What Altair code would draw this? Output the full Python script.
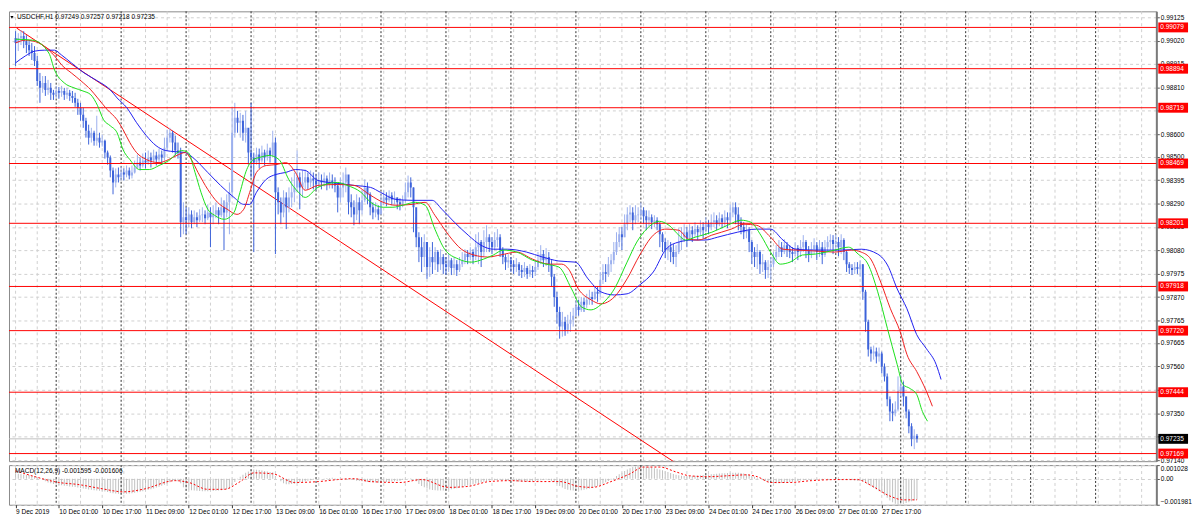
import altair as alt
import pandas as pd

FONT = "Liberation Sans"
FS = 6.6
W = 1158
H_MAIN = 454
H_MACD = 40

title_text = "USDCHF,H1  0.97249 0.97257 0.97218 0.97235"
macd_text = "MACD(12,26,9) -0.001595 -0.001606"

# ---------------- hourly candles (9 Dec 2019 09:00 .. 30 Dec 2019 06:00) ----------------
first_open = 0.99031
close = [
    # 9 Dec
    0.99009, 0.99031, 0.99040, 0.99017, 0.99000, 0.98977, 0.98964, 0.98928, 0.98839, 0.98808, 0.98830, 0.98799, 0.98808, 0.98786, 0.98777,
    # 10 Dec
    0.98794, 0.98786, 0.98794, 0.98777, 0.98786, 0.98772, 0.98763, 0.98741, 0.98719, 0.98687, 0.98661, 0.98616, 0.98585, 0.98607, 0.98571, 0.98585, 0.98563, 0.98571, 0.98518, 0.98496, 0.98438, 0.98384, 0.98420, 0.98407,
    # 11 Dec
    0.98429, 0.98420, 0.98438, 0.98415, 0.98429, 0.98451, 0.98473, 0.98460, 0.98482, 0.98473, 0.98496, 0.98482, 0.98505, 0.98487, 0.98509, 0.98496, 0.98540, 0.98585, 0.98607, 0.98563, 0.98527, 0.98518, 0.98206, 0.98228,
    # 12 Dec
    0.98215, 0.98241, 0.98206, 0.98228, 0.98215, 0.98237, 0.98241, 0.98224, 0.98250, 0.98228, 0.98241, 0.98259, 0.98237, 0.98273, 0.98250, 0.98295, 0.98340, 0.98607, 0.98674, 0.98652, 0.98661, 0.98607, 0.98629, 0.98518,
    # 13 Dec
    0.98496, 0.98473, 0.98509, 0.98482, 0.98518, 0.98496, 0.98527, 0.98505, 0.98563, 0.98340, 0.98295, 0.98250, 0.98317, 0.98273, 0.98317, 0.98340, 0.98362, 0.98407, 0.98362, 0.98384, 0.98407, 0.98384, 0.98402, 0.98393,
    # 16 Dec
    0.98375, 0.98393, 0.98384, 0.98402, 0.98375, 0.98393, 0.98384, 0.98371, 0.98317, 0.98362, 0.98384, 0.98420, 0.98295, 0.98273, 0.98241, 0.98295, 0.98259, 0.98304, 0.98362, 0.98331, 0.98273, 0.98250, 0.98264, 0.98241,
    # 17 Dec
    0.98295, 0.98317, 0.98304, 0.98326, 0.98308, 0.98317, 0.98295, 0.98286, 0.98304, 0.98340, 0.98384, 0.98362, 0.98273, 0.98139, 0.98094, 0.98050, 0.98117, 0.98005, 0.98050, 0.98027, 0.98072, 0.98018, 0.98050, 0.98018,
    # 18 Dec
    0.98005, 0.98036, 0.98001, 0.98018, 0.97992, 0.98018, 0.98036, 0.98063, 0.98050, 0.98072, 0.98050, 0.98094, 0.98117, 0.98072, 0.98117, 0.98139, 0.98117, 0.98094, 0.98126, 0.98139, 0.98081, 0.98050, 0.98027, 0.98036,
    # 19 Dec
    0.98018, 0.98005, 0.98018, 0.97992, 0.97983, 0.98001, 0.97974, 0.97992, 0.97983, 0.98005, 0.98036, 0.98063, 0.98036, 0.98050, 0.98018, 0.97961, 0.97871, 0.97804, 0.97738, 0.97760, 0.97724, 0.97751, 0.97769, 0.97787,
    # 20 Dec
    0.97827, 0.97813, 0.97849, 0.97836, 0.97858, 0.97871, 0.97862, 0.97894, 0.97885, 0.97947, 0.97983, 0.97974, 0.98018, 0.98036, 0.98072, 0.98117, 0.98152, 0.98139, 0.98197, 0.98241, 0.98250, 0.98215, 0.98237, 0.98241,
    # 23 Dec
    0.98259, 0.98233, 0.98215, 0.98228, 0.98206, 0.98215, 0.98197, 0.98152, 0.98117, 0.98081, 0.98094, 0.98072, 0.98050, 0.98072, 0.98117, 0.98139, 0.98161, 0.98134, 0.98170, 0.98152, 0.98175, 0.98161, 0.98184, 0.98170,
    # 24 Dec
    0.98197, 0.98184, 0.98206, 0.98215, 0.98197, 0.98224, 0.98206, 0.98228, 0.98215, 0.98250, 0.98273, 0.98241, 0.98206, 0.98184, 0.98161, 0.98170, 0.98117, 0.98072, 0.98050, 0.98072, 0.98018, 0.98027, 0.97992, 0.98005,
    # 26 Dec
    0.98018, 0.98050, 0.98072, 0.98094, 0.98072, 0.98103, 0.98085, 0.98072, 0.98063, 0.98090, 0.98072, 0.98094, 0.98117, 0.98081, 0.98063, 0.98085, 0.98103, 0.98072, 0.98094, 0.98059, 0.98094, 0.98117, 0.98126, 0.98108,
    # 27 Dec
    0.98117, 0.98094, 0.98126, 0.98072, 0.98018, 0.98001, 0.97992, 0.98005, 0.97996, 0.98018, 0.97894, 0.97760, 0.97635, 0.97617, 0.97626, 0.97604, 0.97617, 0.97559, 0.97515, 0.97412, 0.97358, 0.97350, 0.97367, 0.97448,
    # 30 Dec
    0.97470, 0.97425, 0.97358, 0.97292, 0.97234, 0.97249, 0.97235,
]
high = [
    0.99062, 0.99053, 0.99067, 0.99062, 0.99044, 0.99022, 0.99009, 0.98995, 0.98951, 0.98875, 0.98861, 0.98861, 0.98844, 0.98830, 0.98799,
    0.98817, 0.98812, 0.98817, 0.98808, 0.98808, 0.98799, 0.98794, 0.98786, 0.98759, 0.98741, 0.98719, 0.98674, 0.98643, 0.98629, 0.98616, 0.98683, 0.98607, 0.98598, 0.98576, 0.98527, 0.98505, 0.98451, 0.98447, 0.98451,
    0.98456, 0.98447, 0.98460, 0.98451, 0.98460, 0.98482, 0.98509, 0.98496, 0.98514, 0.98518, 0.98527, 0.98518, 0.98531, 0.98522, 0.98536, 0.98527, 0.98585, 0.98621, 0.98629, 0.98616, 0.98594, 0.98563, 0.98540, 0.98295,
    0.98273, 0.98273, 0.98259, 0.98259, 0.98250, 0.98264, 0.98273, 0.98259, 0.98286, 0.98273, 0.98282, 0.98295, 0.98273, 0.98317, 0.98304, 0.98331, 0.98384, 0.98719, 0.98741, 0.98705, 0.98696, 0.98687, 0.98705, 0.98607,
    0.98741, 0.98518, 0.98540, 0.98536, 0.98549, 0.98531, 0.98558, 0.98540, 0.98616, 0.98585, 0.98362, 0.98317, 0.98349, 0.98340, 0.98362, 0.98407, 0.98429, 0.98527, 0.98429, 0.98438, 0.98442, 0.98429, 0.98438, 0.98429,
    0.98420, 0.98429, 0.98420, 0.98429, 0.98415, 0.98429, 0.98420, 0.98407, 0.98384, 0.98407, 0.98429, 0.98451, 0.98407, 0.98331, 0.98304, 0.98331, 0.98317, 0.98349, 0.98398, 0.98384, 0.98340, 0.98295, 0.98295, 0.98282,
    0.98331, 0.98349, 0.98340, 0.98349, 0.98340, 0.98344, 0.98317, 0.98313, 0.98326, 0.98384, 0.98415, 0.98407, 0.98362, 0.98228, 0.98161, 0.98139, 0.98152, 0.98117, 0.98094, 0.98117, 0.98094, 0.98081, 0.98085, 0.98063,
    0.98050, 0.98063, 0.98045, 0.98050, 0.98036, 0.98050, 0.98072, 0.98085, 0.98081, 0.98094, 0.98085, 0.98152, 0.98161, 0.98126, 0.98170, 0.98192, 0.98152, 0.98139, 0.98161, 0.98175, 0.98152, 0.98094, 0.98063, 0.98063,
    0.98050, 0.98036, 0.98045, 0.98027, 0.98014, 0.98027, 0.98010, 0.98018, 0.98010, 0.98036, 0.98072, 0.98103, 0.98081, 0.98090, 0.98072, 0.98036, 0.97974, 0.97894, 0.97827, 0.97804, 0.97782, 0.97791, 0.97804, 0.97822,
    0.97858, 0.97858, 0.97871, 0.97867, 0.97885, 0.97903, 0.97894, 0.97916, 0.97920, 0.97983, 0.98018, 0.98018, 0.98050, 0.98063, 0.98117, 0.98161, 0.98184, 0.98184, 0.98241, 0.98273, 0.98282, 0.98273, 0.98282, 0.98273,
    0.98295, 0.98273, 0.98259, 0.98259, 0.98241, 0.98237, 0.98228, 0.98206, 0.98161, 0.98134, 0.98126, 0.98117, 0.98108, 0.98103, 0.98179, 0.98184, 0.98197, 0.98184, 0.98197, 0.98188, 0.98206, 0.98192, 0.98215, 0.98206,
    0.98228, 0.98215, 0.98241, 0.98250, 0.98237, 0.98250, 0.98241, 0.98259, 0.98250, 0.98286, 0.98295, 0.98295, 0.98273, 0.98228, 0.98206, 0.98197, 0.98184, 0.98126, 0.98094, 0.98108, 0.98081, 0.98063, 0.98036, 0.98036,
    0.98050, 0.98072, 0.98103, 0.98126, 0.98117, 0.98130, 0.98117, 0.98103, 0.98094, 0.98117, 0.98103, 0.98126, 0.98148, 0.98126, 0.98099, 0.98117, 0.98134, 0.98117, 0.98126, 0.98117, 0.98126, 0.98143, 0.98152, 0.98148,
    0.98152, 0.98139, 0.98152, 0.98134, 0.98081, 0.98027, 0.98018, 0.98027, 0.98027, 0.98036, 0.98018, 0.97903, 0.97769, 0.97648, 0.97653, 0.97644, 0.97644, 0.97626, 0.97573, 0.97528, 0.97425, 0.97394, 0.97403, 0.97515,
    0.97523, 0.97492, 0.97425, 0.97367, 0.97305, 0.97278, 0.97257,
]
low = [
    0.98906, 0.98973, 0.99000, 0.98986, 0.98964, 0.98951, 0.98933, 0.98906, 0.98817, 0.98741, 0.98786, 0.98772, 0.98777, 0.98754, 0.98754,
    0.98763, 0.98759, 0.98768, 0.98754, 0.98759, 0.98750, 0.98741, 0.98723, 0.98687, 0.98661, 0.98629, 0.98585, 0.98554, 0.98563, 0.98549, 0.98549, 0.98540, 0.98545, 0.98491, 0.98464, 0.98407, 0.98331, 0.98362, 0.98384,
    0.98393, 0.98393, 0.98407, 0.98398, 0.98402, 0.98424, 0.98447, 0.98438, 0.98451, 0.98447, 0.98464, 0.98451, 0.98473, 0.98460, 0.98473, 0.98464, 0.98482, 0.98527, 0.98563, 0.98518, 0.98505, 0.98491, 0.98139, 0.98152,
    0.98152, 0.98184, 0.98179, 0.98197, 0.98184, 0.98206, 0.98206, 0.98197, 0.98215, 0.98094, 0.98197, 0.98224, 0.98197, 0.98228, 0.98081, 0.98228, 0.98152, 0.98317, 0.98585, 0.98607, 0.98585, 0.98571, 0.98563, 0.98464,
    0.98407, 0.98072, 0.98464, 0.98447, 0.98473, 0.98460, 0.98482, 0.98473, 0.98496, 0.98063, 0.98241, 0.98197, 0.98228, 0.98175, 0.98250, 0.98273, 0.98295, 0.98340, 0.98264, 0.98317, 0.98353, 0.98353, 0.98362, 0.98353,
    0.98349, 0.98362, 0.98353, 0.98366, 0.98349, 0.98357, 0.98357, 0.98340, 0.98250, 0.98295, 0.98317, 0.98340, 0.98241, 0.98228, 0.98192, 0.98215, 0.98197, 0.98241, 0.98295, 0.98286, 0.98237, 0.98219, 0.98228, 0.98215,
    0.98250, 0.98282, 0.98277, 0.98295, 0.98282, 0.98286, 0.98264, 0.98259, 0.98273, 0.98295, 0.98317, 0.98317, 0.98161, 0.98094, 0.98027, 0.97983, 0.98005, 0.97952, 0.97961, 0.97974, 0.97992, 0.97983, 0.97992, 0.97974,
    0.97969, 0.97983, 0.97969, 0.97974, 0.97965, 0.97983, 0.98005, 0.98018, 0.98018, 0.98036, 0.98018, 0.98036, 0.98018, 0.98005, 0.98050, 0.98072, 0.98072, 0.98063, 0.98081, 0.98094, 0.98050, 0.98018, 0.97992, 0.98001,
    0.97983, 0.97974, 0.97983, 0.97965, 0.97956, 0.97961, 0.97952, 0.97961, 0.97956, 0.97965, 0.97992, 0.98018, 0.98005, 0.98010, 0.97983, 0.97916, 0.97827, 0.97751, 0.97684, 0.97693, 0.97697, 0.97706, 0.97715, 0.97738,
    0.97782, 0.97787, 0.97804, 0.97804, 0.97822, 0.97836, 0.97836, 0.97858, 0.97849, 0.97871, 0.97929, 0.97938, 0.97961, 0.97983, 0.98018, 0.98059, 0.98094, 0.98081, 0.98139, 0.98170, 0.98206, 0.98170, 0.98197, 0.98206,
    0.98215, 0.98197, 0.98170, 0.98188, 0.98175, 0.98184, 0.98170, 0.98094, 0.98072, 0.98045, 0.98036, 0.98027, 0.98018, 0.98005, 0.98063, 0.98081, 0.98117, 0.98094, 0.98126, 0.98117, 0.98139, 0.98126, 0.98148, 0.98134,
    0.98161, 0.98152, 0.98170, 0.98184, 0.98170, 0.98188, 0.98179, 0.98184, 0.98179, 0.98197, 0.98228, 0.98197, 0.98170, 0.98152, 0.98130, 0.98134, 0.98072, 0.98018, 0.98005, 0.97996, 0.97974, 0.97983, 0.97952, 0.97956,
    0.97947, 0.98005, 0.98036, 0.98050, 0.98050, 0.98063, 0.98050, 0.98045, 0.98027, 0.98054, 0.98036, 0.98050, 0.98072, 0.98045, 0.98027, 0.98045, 0.98063, 0.98036, 0.98050, 0.98018, 0.98050, 0.98072, 0.98081, 0.98063,
    0.98072, 0.98054, 0.98063, 0.98036, 0.97983, 0.97974, 0.97969, 0.97974, 0.97974, 0.97961, 0.97858, 0.97715, 0.97604, 0.97581, 0.97590, 0.97573, 0.97581, 0.97528, 0.97492, 0.97381, 0.97314, 0.97314, 0.97336, 0.97358,
    0.97425, 0.97381, 0.97327, 0.97260, 0.97202, 0.97189, 0.97218,
]

# ---------------- Alligator lines (bar index, price) ----------------
jaw_k = [0, 3.6, 7.2, 10.8, 14.4, 17, 20.6, 25.3, 30.3, 35, 37.5, 41.1, 44.7, 48.3, 51.9, 55.5, 59.1, 62.7, 66.3, 71,
         75.7, 80.7, 84.3, 86.5, 89, 92.6, 96.2, 99.8, 103.4, 107, 111.7, 118.9, 125, 131.1, 134.8, 140.5, 146.6, 153.9, 157.5, 162.1,
         167.2, 171.9, 176.5, 181.6, 188.8, 194.6, 200.7, 206.8, 211.5, 216.2, 221.2, 225.9, 230.6, 235.6, 240.3, 245, 250, 254.7, 259.4, 266.6,
         273.8, 278.9, 283.5, 288.2, 295.4, 305.1, 312.4, 318.5, 322.1, 325.7, 329.3, 332.9, 336.5, 340.1, 341.9]
jaw_p = [0.98920, 0.98951, 0.98973, 0.98977, 0.98977, 0.98955, 0.98920, 0.98875, 0.98839, 0.98799,
         0.98763, 0.98719, 0.98652, 0.98594, 0.98549, 0.98527, 0.98522, 0.98518, 0.98487, 0.98429,
         0.98371, 0.98317, 0.98286, 0.98286, 0.98340, 0.98398, 0.98420, 0.98429, 0.98442, 0.98438,
         0.98393, 0.98380, 0.98371, 0.98362, 0.98340, 0.98308, 0.98304, 0.98304, 0.98264, 0.98206,
         0.98148, 0.98103, 0.98085, 0.98085, 0.98072, 0.98050, 0.98032, 0.98027, 0.97952, 0.97894,
         0.97880, 0.97885, 0.97925, 0.97983, 0.98085, 0.98117, 0.98126, 0.98126, 0.98139, 0.98161,
         0.98175, 0.98175, 0.98126, 0.98085, 0.98081, 0.98081, 0.98085, 0.98063, 0.98014, 0.97907,
         0.97818, 0.97702, 0.97639, 0.97568, 0.97501]
teeth_k = [0, 3.6, 8.7, 12.3, 14.4, 17, 20.6, 24.2, 27.8, 30.3, 33.9, 37.5, 39.7, 42.2, 44.7, 48.3, 53, 56.6, 60.2, 62.7,
           64.9, 67.4, 71, 74.6, 78.2, 81.8, 84.3, 86.5, 89, 92.6, 96.2, 99.8, 103.4, 107, 111.7, 118.9, 125, 131.2, 135.8, 140.5,
           146.6, 151.3, 154.9, 160, 164.7, 169.3, 174.4, 179.1, 185.2, 190.9, 197.1, 201.8, 204.3, 207.9, 212.6, 216.2, 221.2, 225.9, 230.6, 235.6,
           240.3, 245, 248.6, 252.2, 257.2, 264.4, 269.1, 273.8, 278.9, 283.5, 288.2, 295.4, 302.6, 308.8, 312.4, 315.9, 319.6, 323.2, 326.8, 329.3,
           332.9, 336.5, 338.7]
teeth_p = [0.99009, 0.99022, 0.99009, 0.98977, 0.98951, 0.98911, 0.98875, 0.98839, 0.98799, 0.98763,
           0.98710, 0.98665, 0.98621, 0.98563, 0.98518, 0.98487, 0.98473, 0.98487, 0.98509, 0.98518,
           0.98487, 0.98429, 0.98353, 0.98295, 0.98264, 0.98241, 0.98264, 0.98340, 0.98429, 0.98460,
           0.98464, 0.98473, 0.98429, 0.98349, 0.98371, 0.98375, 0.98371, 0.98326, 0.98295, 0.98282,
           0.98286, 0.98295, 0.98237, 0.98148, 0.98085, 0.98059, 0.98050, 0.98059, 0.98072, 0.98041,
           0.98018, 0.98018, 0.97996, 0.97907, 0.97858, 0.97840, 0.97871, 0.97952, 0.98059, 0.98148,
           0.98175, 0.98170, 0.98130, 0.98126, 0.98148, 0.98175, 0.98197, 0.98192, 0.98139, 0.98085,
           0.98081, 0.98077, 0.98072, 0.98081, 0.98072, 0.98041, 0.97938, 0.97818, 0.97715, 0.97613,
           0.97537, 0.97448, 0.97381]
lips_k = [0, 6.2, 12.3, 14.4, 18, 21.6, 24.9, 27.8, 30.3, 32.5, 35, 37.5, 39.7, 42.2, 45.8, 49.4, 53, 56.6, 61.3, 63.8,
          66.3, 68.5, 71, 73.5, 77.1, 80.7, 82.9, 85.4, 87.9, 90.1, 93.7, 97.3, 100.9, 104.5, 107, 111.7, 118.9, 122.5, 127.6, 131.2,
          135.8, 139.4, 143, 147.7, 151.3, 154.9, 158.5, 163.6, 168.3, 173, 176.5, 180.1, 185.2, 190.9, 196, 200.7, 205.4, 209, 212.6, 216.2,
          221.2, 225.9, 229.5, 233.1, 237.8, 241.4, 245, 247.5, 251.1, 257.2, 263, 268, 271.6, 275.3, 278.9, 282.5, 286.1, 290.7, 295.4, 302.6,
          307.7, 311.3, 314.9, 318.5, 322.1, 325.7, 327.8, 330.4, 332.9, 335, 336.9]
lips_p = [0.99026, 0.99022, 0.98964, 0.98888, 0.98830, 0.98808, 0.98794, 0.98777, 0.98728, 0.98665,
          0.98638, 0.98607, 0.98531, 0.98487, 0.98442, 0.98442, 0.98460, 0.98482, 0.98527, 0.98518,
          0.98429, 0.98340, 0.98264, 0.98237, 0.98219, 0.98250, 0.98340, 0.98442, 0.98487, 0.98496,
          0.98505, 0.98487, 0.98398, 0.98340, 0.98317, 0.98362, 0.98384, 0.98371, 0.98340, 0.98295,
          0.98273, 0.98273, 0.98282, 0.98295, 0.98282, 0.98175, 0.98085, 0.98041, 0.98027, 0.98041,
          0.98059, 0.98081, 0.98072, 0.98036, 0.98018, 0.98005, 0.97907, 0.97827, 0.97813, 0.97836,
          0.97907, 0.98027, 0.98117, 0.98175, 0.98210, 0.98192, 0.98148, 0.98126, 0.98139, 0.98161,
          0.98192, 0.98215, 0.98206, 0.98148, 0.98072, 0.98018, 0.98027, 0.98059, 0.98063, 0.98081,
          0.98094, 0.98063, 0.98018, 0.97894, 0.97729, 0.97568, 0.97479, 0.97461, 0.97434, 0.97358,
          0.97314]

# trend line end points (bar index, price)
trend_k = [0.4, 247.2]
trend_p = [0.99076, 0.97100]

# horizontal levels and current price
levels = [0.99079, 0.98894, 0.98719, 0.98469, 0.98201, 0.97918, 0.97720, 0.97444, 0.97169]
current_price = 0.97235
price_ticks = [0.99125, 0.99020, 0.98915, 0.98810, 0.98705, 0.98600, 0.98500, 0.98395, 0.98290, 0.98185,
               0.98080, 0.97975, 0.97870, 0.97765, 0.97665, 0.97560, 0.97455, 0.97350, 0.97245, 0.97140]
# tick labels that sit completely under a level box in the picture
hidden_ticks = [0.98705, 0.97455, 0.97245]

# ---------------- MACD (12,26,9): histogram per bar (millionths) and signal line ----------------
macd_micro = [
    400, 380, 350, 320, 300, 270, 240, 200, 100, -20, -100, -200,
    -300, -350, -400, -450, -480, -500, -530, -560, -590, -610, -640, -670,
    -700, -740, -780, -820, -850, -880, -900, -920, -950, -980, -1020, -1060,
    -1100, -1130, -1150, -1150, -1150, -1140, -1120, -1100, -1070, -1030, -990, -950,
    -900, -850, -800, -740, -680, -610, -540, -470, -380, -280, -200, -180,
    -200, -350, -650, -750, -820, -870, -900, -920, -940, -950, -950, -950,
    -940, -930, -920, -900, -880, -850, -800, -740, -500, -250, -50, 150,
    300, 450, 550, 650, 700, 680, 650, 620, 580, 540, 500, 480,
    200, 0, -200, -350, -420, -430, -410, -380, -320, -280, -250, -200,
    -160, -120, -80, -50, -20, 0, 20, 50, 60, 70, 40, 20,
    0, 10, 30, -20, -60, -100, -150, -180, -200, -220, -250, -270,
    -280, -300, -310, -300, -280, -260, -240, -220, -200, -170, -150, -100,
    -60, -20, 30, 0, -200, -400, -550, -650, -750, -820, -860, -880,
    -900, -900, -890, -870, -840, -800, -760, -720, -670, -620, -570, -520,
    -470, -420, -370, -320, -270, -230, -180, -150, -130, -110, -100, -100,
    -110, -130, -150, -180, -200, -210, -220, -230, -240, -230, -220, -200,
    -180, -150, -120, -100, -90, -100, -150, -250, -400, -550, -680, -780,
    -850, -880, -900, -910, -900, -880, -850, -800, -750, -700, -630, -560,
    -480, -380, -280, -180, -80, 50, 200, 330, 450, 580, 700, 800,
    880, 920, 950, 960, 950, 920, 880, 840, 800, 750, 700, 640,
    570, 500, 430, 360, 300, 260, 230, 210, 200, 200, 210, 220,
    240, 260, 280, 300, 320, 340, 360, 380, 400, 410, 420, 430,
    440, 440, 450, 450, 430, 400, 360, 300, 230, 150, 60, -20,
    -100, -170, -230, -280, -320, -340, -340, -330, -310, -290, -260, -230,
    -200, -170, -140, -120, -100, -80, -70, -60, -50, -40, -40, -30,
    -20, -10, 0, 10, 10, 0, -20, -50, -80, -110, -130, -150,
    -170, -220, -320, -450, -580, -700, -820, -950, -1080, -1250, -1450, -1650,
    -1800, -1900, -1981, -1950, -1900, -1850, -1800, -1720, -1650, -1595,
]
signal_k = [0, 6, 16, 23, 31, 40, 47, 59, 64, 71, 77, 83, 88, 95, 103, 112, 119, 125, 131, 142,
            150, 160, 167, 175, 183, 191, 201, 208, 213, 220, 227, 232, 238, 244, 249, 256, 263, 270, 274, 279,
            286, 294, 303, 311, 316, 323, 328, 333]
signal_v = [0.00059, 0.00022, -0.00029, -0.00044, -0.00073, -0.00100, -0.00081, -0.00015, -0.00029, -0.00081,
            -0.00081, -0.00022, 0.00044, 0.00037, -0.00029, -0.00022, -0.00007, 0.0, -0.00022, -0.00029,
            -0.00007, -0.00066, -0.00059, -0.00022, -0.00015, -0.00022, -0.00022, -0.00059, -0.00066, -0.00022,
            0.00037, 0.00088, 0.00088, 0.00051, 0.00022, 0.00015, 0.00022, 0.00029, 0.00015, -0.00029,
            -0.00029, -0.00015, -0.00007, -0.00007, -0.00051, -0.00132, -0.00161, -0.001606]
macd_ticks = [0.001028, 0.0, -0.001981]

time_labels = ["9 Dec 2019", "10 Dec 01:00", "10 Dec 17:00", "11 Dec 09:00", "12 Dec 01:00", "12 Dec 17:00",
               "13 Dec 09:00", "16 Dec 01:00", "16 Dec 17:00", "17 Dec 09:00", "18 Dec 01:00", "18 Dec 17:00",
               "19 Dec 09:00", "20 Dec 01:00", "20 Dec 17:00", "23 Dec 09:00", "24 Dec 01:00", "24 Dec 17:00",
               "26 Dec 09:00", "27 Dec 01:00", "27 Dec 17:00"]
label_k = [16 * i for i in range(len(time_labels))]

# ---------------- tables ----------------
n = len(close)
assert len(high) == n and len(low) == n and len(macd_micro) == n, (n, len(high), len(low), len(macd_micro))
opens = [first_open] + close[:-1]
bars = pd.DataFrame({"k": list(range(n)), "open": opens, "high": high, "low": low, "close": close})
bars["dir"] = ["up" if c >= o else "down" for o, c in zip(opens, close)]
macd_df = pd.DataFrame({"k": list(range(n)), "macd": [v / 1e6 for v in macd_micro]})
sig_df = pd.DataFrame({"k": signal_k, "v": signal_v})
jaw_df = pd.DataFrame({"k": jaw_k, "p": jaw_p})
teeth_df = pd.DataFrame({"k": teeth_k, "p": teeth_p})
lips_df = pd.DataFrame({"k": lips_k, "p": lips_p})
trend_df = pd.DataFrame({"k": trend_k, "p": trend_p})
lev_df = pd.DataFrame({"price": levels})
cur_df = pd.DataFrame({"price": [current_price]})
lab_df = pd.DataFrame({
    "price": levels + [current_price],
    "label": [f"{v:.5f}" for v in levels] + [f"{current_price:.5f}"],
    "bg": ["#FF0000"] * len(levels) + ["#000000"],
})
vgrid_df = pd.DataFrame({"k": list(range(0, 420, 8))})
sep_df = pd.DataFrame({"k": list(range(15, 420, 24))})

# ---------------- scales / axes ----------------
XS = alt.Scale(domain=[-0.6, 419.6], nice=False, zero=False)
YS = alt.Scale(domain=[0.97135, 0.99151], nice=False, zero=False)
MS = alt.Scale(domain=[-0.001981, 0.001028], nice=False, zero=False)

axis_common = dict(title=None, tickSize=3, tickColor="#555555", labelFont=FONT, labelFontSize=FS,
                   labelColor="black", labelPadding=1, domain=True, domainColor="#7a7a7a", domainWidth=2,
                   labelOverlap=False)
hidden_expr = " || ".join(f"abs(datum.value - {v}) < 0.000001" for v in hidden_ticks)
y_axis = alt.Axis(orient="right", values=price_ticks,
                  labelExpr=f"({hidden_expr}) ? '' : format(datum.value, '.5f')",
                  grid=True, gridColor="#CFCFCF", gridDash=[3, 3], **axis_common)
m_axis = alt.Axis(orient="right", values=macd_ticks,
                  labelExpr="datum.value == 0 ? '0.00' : format(datum.value, '.6f')",
                  labelFlush=True, grid=True, gridColor="#CFCFCF", gridDash=[3, 3], **axis_common)
label_arr = "[" + ",".join("'" + s + "'" for s in time_labels) + "]"
x_axis = alt.Axis(values=label_k, labelExpr=label_arr + "[datum.value/16]", labelAlign="left",
                  labelFont=FONT, labelFontSize=FS, labelColor="black", labelPadding=1, tickSize=3,
                  tickColor="#333333", domain=False, grid=False, title=None, labelFlush=False,
                  labelOverlap=False)

# main pane: no x axis; same y axis on every layer
XM = alt.X("k:Q", scale=XS, axis=None)


def YM(field):
    return alt.Y(field, scale=YS, axis=y_axis)


# macd pane: same axes on every layer
XB = alt.X("k:Q", scale=XS, axis=x_axis)


def YB(field):
    return alt.Y(field, scale=MS, axis=m_axis)


BULL = "#9CB0EE"
BEAR = "#3D63DA"
cdir = alt.Color("dir:N", scale=alt.Scale(domain=["up", "down"], range=[BULL, BEAR]), legend=None)

price_line = alt.Chart(cur_df).mark_rule(color="#C0C0C0", strokeWidth=1).encode(y=YM("price:Q"))
vgrid_m = alt.Chart(vgrid_df).mark_rule(color="#CFCFCF", strokeDash=[3, 3], strokeWidth=1).encode(x=XM)
seps_m = alt.Chart(sep_df).mark_rule(color="#303030", strokeDash=[2, 2], strokeWidth=1).encode(x=XM)
level_lines = alt.Chart(lev_df).mark_rule(color="#FF0000", strokeWidth=1).encode(y=YM("price:Q"))
trend = alt.Chart(trend_df).mark_line(color="#FF0000", strokeWidth=1, clip=True).encode(x=XM, y=YM("p:Q"))
wicks = alt.Chart(bars).mark_rule(strokeWidth=1, clip=True).encode(
    x=XM, y=YM("low:Q"), y2="high:Q", color=cdir)
bodies = alt.Chart(bars).mark_bar(width=2, clip=True).encode(
    x=XM, y=YM("open:Q"), y2="close:Q", color=cdir)


def ma(df, col):
    return alt.Chart(df).mark_line(color=col, strokeWidth=1, interpolate="monotone", clip=True).encode(
        x=XM, y=YM("p:Q"))


jaw = ma(jaw_df, "#1F1FF0")
teeth = ma(teeth_df, "#F01F1F")
lips = ma(lips_df, "#19E019")

BOX = "M-3,-1H3V1H-3Z"
boxes = alt.Chart(lab_df).mark_point(shape=BOX, filled=True, size=100, opacity=1, strokeWidth=0).encode(
    x=alt.value(W + 17), y=YM("price:Q"), color=alt.Color("bg:N", scale=None))
box_text = alt.Chart(lab_df).mark_text(align="left", baseline="middle", font=FONT, fontSize=FS,
                                      color="white").encode(
    x=alt.value(W + 4), y=YM("price:Q"), text="label:N")

title_mark = alt.Chart(pd.DataFrame({"t": [title_text]})).mark_text(
    align="left", baseline="middle", font=FONT, fontSize=FS, color="black").encode(
    text="t:N", x=alt.value(8), y=alt.value(6))
tri = alt.Chart(pd.DataFrame({"t": [0]})).mark_point(
    shape="triangle-down", filled=True, color="black", size=10, opacity=1).encode(
    x=alt.value(3), y=alt.value(6))

main = alt.layer(
    price_line, vgrid_m, seps_m, trend, wicks, bodies, level_lines, jaw, teeth, lips,
    title_mark, tri, boxes, box_text,
).properties(width=W, height=H_MAIN)

hist = alt.Chart(macd_df).mark_bar(width=1, color="#C0C0C0").encode(
    x=XB, y=YB("macd:Q"), y2=alt.datum(0))
vgrid_b = alt.Chart(vgrid_df).mark_rule(color="#CFCFCF", strokeDash=[3, 3], strokeWidth=1).encode(x=XB)
seps_b = alt.Chart(sep_df).mark_rule(color="#303030", strokeDash=[2, 2], strokeWidth=1).encode(x=XB)
sig = alt.Chart(sig_df).mark_line(color="#FF0000", strokeDash=[2, 2], strokeWidth=1,
                                   interpolate="monotone").encode(x=XB, y=YB("v:Q"))
macd_title = alt.Chart(pd.DataFrame({"t": [macd_text]})).mark_text(
    align="left", baseline="middle", font=FONT, fontSize=FS, color="black").encode(
    text="t:N", x=alt.value(6), y=alt.value(6))

macd = alt.layer(hist, vgrid_b, seps_b, sig, macd_title).properties(width=W, height=H_MACD)

chart = alt.vconcat(main, macd, spacing=4, bounds="flush").properties(
    padding=0, background="white"
).configure_view(stroke="#8a8a8a", strokeWidth=1)

chart.save("out.html", embed_options={"renderer": "svg", "actions": False})
